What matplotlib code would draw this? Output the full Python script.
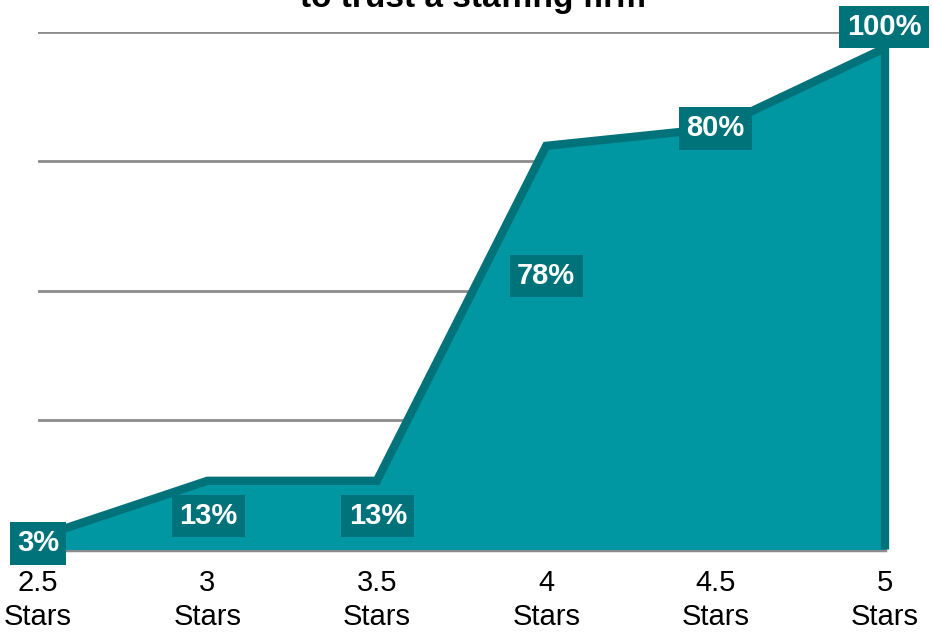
import numpy as np
import matplotlib.pyplot as plt

# --- dados ---
categorias = ["2.5\nStars", "3\nStars", "3.5\nStars", "4\nStars", "4.5\nStars", "5\nStars"]
altura = [2.4, 13.7, 13.7, 80.5, 84.0, 100.0]   # altura desenhada da área (%)
rotulos = ["3%", "13%", "13%", "78%", "80%", "100%"]
titulo = "to trust a staffing firm"

# deslocamento dos rótulos em pixels (x, y) relativo ao ponto
desloc_px = [(0, -6), (1, -35), (1, -35), (0, -130), (0, 0), (-1, 21)]

COR_AREA = "#0096A2"
COR_ESCURA = "#00737A"
COR_GRADE = "#8C8C8C"

plt.rcParams['font.family'] = ['Liberation Sans', 'DejaVu Sans']

fig = plt.figure(figsize=(9.33, 6.33), dpi=100)
ax = fig.add_axes([38 / 933, 83.5 / 633, (885 - 38) / 933, 517.5 / 633])

x = np.arange(len(categorias))
ax.set_xlim(0, len(categorias) - 1)
ax.set_ylim(0, 103.2)

# grade horizontal
ax.set_yticks(np.linspace(0, 103.2, 5))
ax.yaxis.grid(True, color=COR_GRADE, linewidth=2)
ax.set_axisbelow(True)
ax.tick_params(axis='y', left=False, labelleft=False)

# área + contorno
ax.fill_between(x, 0, altura, color=COR_AREA, zorder=2, linewidth=0)
xs = list(x) + [x[-1]]
ys = list(altura) + [0]
ax.plot(xs, ys, color=COR_ESCURA, linewidth=6, solid_joinstyle='miter',
        solid_capstyle='butt', zorder=3, clip_on=False)

# eixos
for lado in ['top', 'left', 'right']:
    ax.spines[lado].set_visible(False)
ax.spines['bottom'].set_color(COR_GRADE)
ax.spines['bottom'].set_linewidth(2.5)
ax.spines['bottom'].set_zorder(1)

ax.set_xticks(x)
ax.set_xticklabels(categorias, fontsize=21, linespacing=1.28)
ax.tick_params(axis='x', length=0, pad=14)

# rótulos em caixas
for xi, yi, txt, (dx, dy) in zip(x, altura, rotulos, desloc_px):
    ax.annotate(txt, xy=(xi, yi), xytext=(dx * 0.72, dy * 0.72),
                textcoords='offset points', ha='center', va='center',
                fontsize=21, fontweight='bold', color='white', zorder=5,
                annotation_clip=False,
                bbox=dict(boxstyle='square,pad=0.25', facecolor=COR_ESCURA,
                          edgecolor='none'))

# título (cortado no topo como no original)
fig.text(473 / 933, 1 - 7 / 633, titulo, ha='center', va='baseline',
         fontsize=24, fontweight='bold', color='black')

fig.savefig("out.png", dpi=100)
